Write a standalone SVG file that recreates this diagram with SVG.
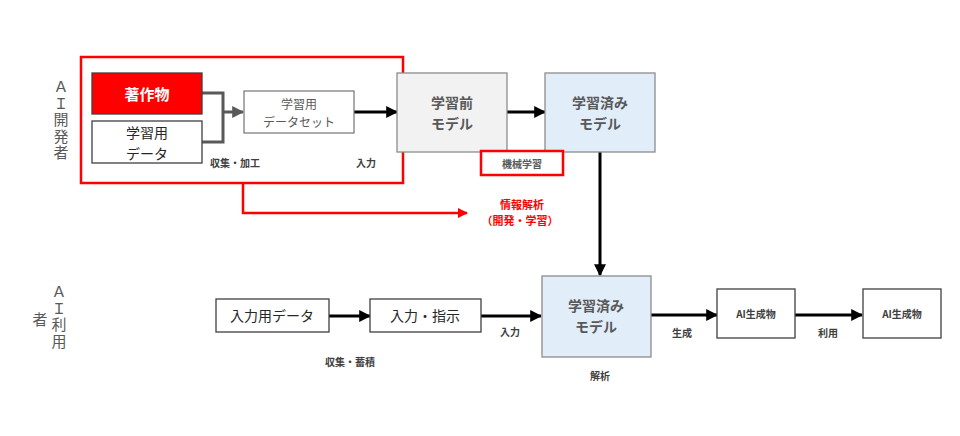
<svg xmlns="http://www.w3.org/2000/svg" width="960" height="436" viewBox="0 0 960 436">
<style>
text{font-family:"Noto Sans CJK JP","Noto Sans",sans-serif;text-anchor:middle;dominant-baseline:central}
.box{fill:#fff;stroke:#404040;stroke-width:1.3}
.gbox{fill:#fff;stroke:#7f7f7f;stroke-width:1.3}
.mbox{fill:#f2f2f2;stroke:#8c8c8c;stroke-width:1.3}
.bbox{fill:#e1eef9;stroke:#8c8c8c;stroke-width:1.3}
.big{font-size:14px;font-weight:bold;fill:#595959}
.node{font-size:14px;fill:#262626}
.small{font-size:10px;font-weight:bold;fill:#404040}
.side{font-size:15px;fill:#595959}
.vert{writing-mode:vertical-rl;text-anchor:start;letter-spacing:1.5px}
.red{font-size:11px;font-weight:bold;fill:#ff0000}
.ln{fill:none;stroke:#000;stroke-width:3}
.gln{fill:none;stroke:#595959;stroke-width:3}
.rln{fill:none;stroke:#ff0000;stroke-width:2.5}
</style>
<defs>
<marker id="ab" viewBox="0 0 10 10" refX="9" refY="5" markerWidth="4" markerHeight="4" orient="auto" markerUnits="strokeWidth"><path d="M0,0L10,5L0,10z" fill="#000"/></marker>
<marker id="ag" viewBox="0 0 10 10" refX="9" refY="5" markerWidth="4" markerHeight="4" orient="auto" markerUnits="strokeWidth"><path d="M0,0L10,5L0,10z" fill="#595959"/></marker>
<marker id="ar" viewBox="0 0 10 10" refX="9" refY="5" markerWidth="4" markerHeight="4" orient="auto" markerUnits="strokeWidth"><path d="M0,0L10,5L0,10z" fill="#ff0000"/></marker>
</defs>
<rect width="960" height="436" fill="#fff"/>

<g id="label-dev">
<text class="side vert" x="61" y="79">ＡＩ開発者</text>
</g>
<g id="label-user">
<text class="side vert" x="59" y="284">ＡＩ利用</text>
<text class="side" x="40" y="318">者</text>
</g>

<g id="dev-frame"><rect x="81" y="57" width="322" height="126" fill="none" stroke="#ff0000" stroke-width="2.5"/></g>

<g id="connectors">
<polyline class="gln" points="202,93 223,93 223,142 202,142"/>
<line class="gln" x1="223" y1="112" x2="243" y2="112" marker-end="url(#ag)"/>
<line class="ln" x1="354" y1="112" x2="397" y2="112" marker-end="url(#ab)"/>
<line class="ln" x1="507" y1="112" x2="545" y2="112" marker-end="url(#ab)"/>
<line class="ln" x1="600" y1="152" x2="600" y2="275" marker-end="url(#ab)"/>
<polyline class="rln" points="243,183 243,213 467,213" marker-end="url(#ar)"/>
<line class="ln" x1="329" y1="316" x2="370" y2="316" marker-end="url(#ab)"/>
<line class="ln" x1="481" y1="316" x2="541" y2="316" marker-end="url(#ab)"/>
<line class="ln" x1="651" y1="315" x2="717" y2="315" marker-end="url(#ab)"/>
<line class="ln" x1="795" y1="315" x2="862" y2="315" marker-end="url(#ab)"/>
</g>

<g id="n-chosakubutsu"><rect x="92" y="73" width="110" height="41" fill="#ff0000" stroke="#404040" stroke-width="1.3"/><text x="147" y="93" font-size="15" font-weight="bold" fill="#fff">著作物</text></g>
<g id="n-gakushuyo-data"><rect class="box" x="92" y="121" width="110" height="42"/><text class="node" x="147" y="132">学習用<tspan x="147" dy="20.5">データ</tspan></text></g>
<g id="n-dataset"><rect class="gbox" x="244" y="91" width="110" height="42"/><text x="299" y="103" font-size="12" fill="#595959">学習用<tspan x="299" dy="17.5">データセット</tspan></text></g>
<g id="n-premodel"><rect class="mbox" x="397" y="73" width="110" height="79"/><text class="big" x="452" y="102">学習前<tspan x="452" dy="20.5">モデル</tspan></text></g>
<g id="n-trained-top"><rect class="bbox" x="545" y="73" width="110" height="79"/><text class="big" x="600" y="102">学習済み<tspan x="600" dy="20.5">モデル</tspan></text></g>
<g id="n-kikai"><rect x="481" y="151" width="82" height="24" fill="#fff" stroke="#ff0000" stroke-width="2.5"/><text x="522" y="163" font-size="10" font-weight="bold" fill="#595959">機械学習</text></g>

<g id="n-input-data"><rect class="box" x="216" y="299" width="113" height="33"/><text class="node" x="272" y="315">入力用データ</text></g>
<g id="n-input-shiji"><rect class="box" x="370" y="299" width="111" height="33"/><text class="node" x="425" y="315">入力・指示</text></g>
<g id="n-trained-bottom"><rect class="bbox" x="542" y="276" width="109" height="81"/><text class="big" x="596" y="305">学習済み<tspan x="596" dy="20.5">モデル</tspan></text></g>
<g id="n-ai1"><rect class="box" x="717" y="289" width="78" height="49"/><text x="756" y="313" font-size="10" font-weight="bold" fill="#404040">AI生成物</text></g>
<g id="n-ai2"><rect class="box" x="863" y="289" width="78" height="49"/><text x="902" y="313" font-size="10" font-weight="bold" fill="#404040">AI生成物</text></g>

<g id="labels">
<text class="small" x="235" y="162">収集・加工</text>
<text class="small" x="366" y="162">入力</text>
<text class="red" x="522" y="204">情報解析<tspan x="520" dy="16">（開発・学習）</tspan></text>
<text class="small" x="350" y="361">収集・蓄積</text>
<text class="small" x="510" y="331">入力</text>
<text class="small" x="682" y="332">生成</text>
<text class="small" x="828" y="332">利用</text>
<text class="small" x="600" y="375">解析</text>
</g>
</svg>
